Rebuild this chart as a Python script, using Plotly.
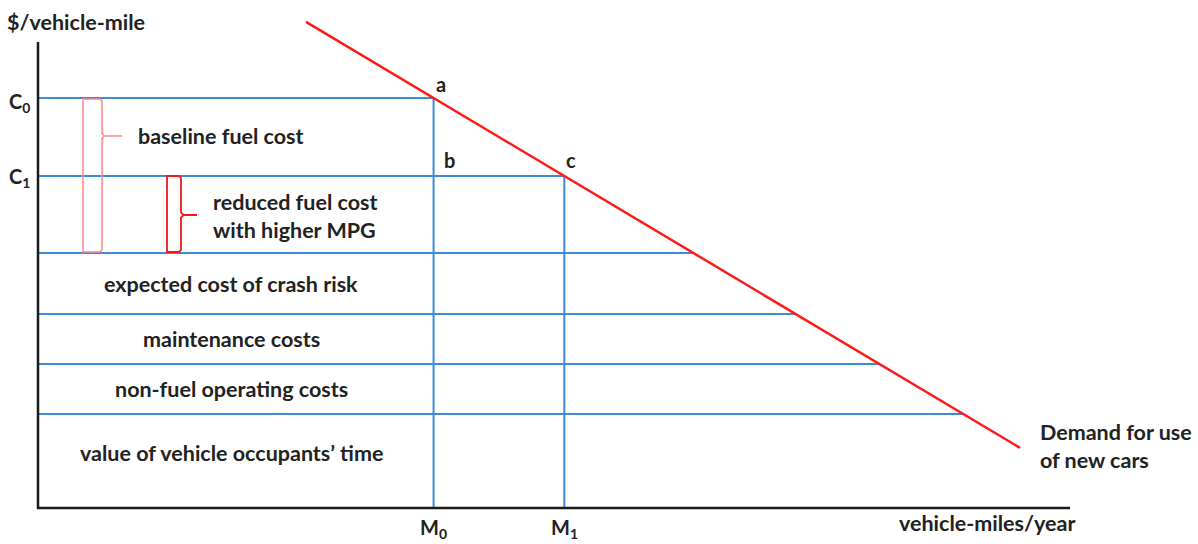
import plotly.graph_objects as go

# Per-mile cost layers, stacked from the bottom up ($/vehicle-mile, arbitrary units)
layer_names = [
    "value of vehicle occupants\u2019 time",
    "non-fuel operating costs",
    "maintenance costs",
    "expected cost of crash risk",
]
layer_heights = [94, 50, 50, 61]
baseline_fuel = 155        # fuel cost per mile at baseline MPG
reduced_fuel = 77          # fuel cost per mile with higher MPG

# Linear demand for use of new cars: P = demand_intercept - demand_slope * Q
demand_intercept = 646.0
demand_slope = 0.5966
demand_q_span = [268, 982]

axis_y_top = 466
axis_x_end = 1032

BLUE = "#3d8ad8"
RED = "#ff1a1a"
INK = "#222222"
FONT = "Lato, 'Open Sans', sans-serif"
FS = 21.5


def q_of(p):
    return (demand_intercept - p) / demand_slope


def p_of(q):
    return demand_intercept - demand_slope * q


tops = []
acc = 0
for h in layer_heights:
    acc += h
    tops.append(acc)
fuel_base = tops[-1]
C0 = fuel_base + baseline_fuel
C1 = fuel_base + reduced_fuel
M0 = q_of(C0)
M1 = q_of(C1)

fig = go.Figure()

# horizontal cost lines, each running out to the demand curve
for p in tops + [C1, C0]:
    fig.add_trace(go.Scatter(x=[0, q_of(p)], y=[p, p], mode="lines",
                             line=dict(color=BLUE, width=2), hoverinfo="skip"))

# quantities demanded at the two fuel costs
for q, p in [(M0, C0), (M1, C1)]:
    fig.add_trace(go.Scatter(x=[q, q], y=[0, p], mode="lines",
                             line=dict(color=BLUE, width=2), hoverinfo="skip"))

# demand curve
fig.add_trace(go.Scatter(x=demand_q_span, y=[p_of(q) for q in demand_q_span],
                         mode="lines", line=dict(color=RED, width=2.5),
                         hoverinfo="skip"))

# axes
fig.add_trace(go.Scatter(x=[0, 0, axis_x_end], y=[axis_y_top, 0, 0], mode="lines",
                         line=dict(color="#1a1a1a", width=2.5), hoverinfo="skip"))


def brace_path(x0, x1, tip, y_top, y_bot, y_tip):
    n = 2.5
    return (f"M {x0},{y_top} L {x1 - 2},{y_top} L {x1},{y_top - 2} "
            f"L {x1},{y_tip + n} L {x1 + n},{y_tip} L {tip},{y_tip} "
            f"L {x1 + n},{y_tip} L {x1},{y_tip - n} "
            f"L {x1},{y_bot + 2} L {x1 - 2},{y_bot} L {x0},{y_bot} Z")


# braces marking the two fuel-cost bands
fig.add_shape(type="path", xref="x", yref="y",
              path=brace_path(45, 64, 84, C0 - 1, fuel_base + 1, C0 - 38),
              line=dict(color="#ff8585", width=1.5))
fig.add_shape(type="path", xref="x", yref="y",
              path=brace_path(129, 143, 159, C1, fuel_base + 1, C1 - 39),
              line=dict(color="#f01818", width=1.8))


def label(x, y, text, size=FS, xanchor="center", yanchor="middle", **kw):
    fig.add_annotation(x=x, y=y, text=text, showarrow=False, xref="x", yref="y",
                       xanchor=xanchor, yanchor=yanchor,
                       font=dict(family=FONT, size=size, color=INK), **kw)


# stacked layer labels
bottoms = [0] + tops[:-1]
for name, lo, hi in zip(layer_names, bottoms, tops):
    shift = 8 if lo == 0 else 0
    label(193, (lo + hi) / 2, f"<b>{name}</b>", yshift=shift)

label(98, C0 - 38, "<b>baseline fuel cost</b>", xanchor="left")
label(173, C1 - 40, "<b>reduced fuel cost<br>with higher MPG</b>",
      xanchor="left", align="left")

# price levels and quantities
label(-19, C0 - 4, "<b>C<sub>0</sub></b>", size=20)
label(-19, C1 - 1, "<b>C<sub>1</sub></b>", size=20)
label(M0, -20, "<b>M<sub>0</sub></b>", size=20)
label(M1, -20, "<b>M<sub>1</sub></b>", size=20)

# points on the diagram
label(M0 + 7, C0 + 14, "<b>a</b>", size=20)
label(M0 + 16, C1 + 16, "<b>b</b>", size=20)
label(M1 + 7, C1 + 16, "<b>c</b>", size=20)

label(-33, 486, "<b>$/vehicle-mile</b>", xanchor="left")
label(1039, -15, "<b>vehicle-miles/year</b>", xanchor="right")
label(1000, 62, "<b>Demand for use<br>of new cars</b>",
      xanchor="left", align="left")

fig.update_layout(
    width=1198, height=544,
    margin=dict(l=0, r=0, t=0, b=0),
    paper_bgcolor="white", plot_bgcolor="white",
    showlegend=False,
    xaxis=dict(range=[-38, 1160], visible=False, fixedrange=True),
    yaxis=dict(range=[-36, 508], visible=False, fixedrange=True),
)

fig.write_html("out.html")
